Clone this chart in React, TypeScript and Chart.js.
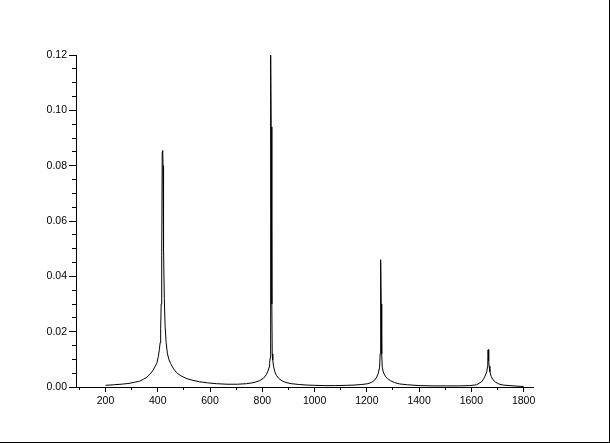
import React, { useEffect, useRef } from "react";
import { Chart, registerables } from "chart.js";

Chart.register(...registerables);

// Frequency (x) and amplitude (y)
const freqs = [
  200, 230, 260, 290, 310, 330, 345, 359, 370, 380, 390, 397, 402, 406, 409, 411, 413,
  414, 416, 417, 419, 420, 422, 425, 428, 432, 437, 443, 449, 460, 472, 486,
  500, 515, 535, 560, 590, 625, 665, 705, 740, 768, 790, 805, 815, 822, 826, 828, 830,
  831, 833, 834, 836, 837, 838, 840, 843, 848, 854, 863, 876, 891, 911, 941, 971, 1001,
  1041, 1081, 1121, 1151, 1181, 1204, 1219, 1230, 1238, 1244, 1249, 1251, 1252, 1253,
  1254, 1255, 1257, 1259, 1262, 1266, 1272, 1280, 1292, 1306, 1326, 1356, 1404, 1454,
  1504, 1554, 1594, 1620, 1638, 1645, 1652, 1659, 1662, 1663, 1664, 1666, 1667, 1668,
  1671, 1676, 1683, 1692, 1705, 1722, 1748, 1775, 1800,
];
const amps = [
  0.0006, 0.0008, 0.001, 0.0013, 0.0017, 0.0021, 0.0028, 0.0036, 0.0046, 0.0058, 0.0074,
  0.0088, 0.011, 0.0135, 0.016, 0.021, 0.03,
  0.047, 0.0475, 0.085, 0.0855, 0.08, 0.05, 0.032, 0.022, 0.016, 0.012, 0.0098, 0.0085,
  0.0066, 0.0052, 0.0042,
  0.0035, 0.0029, 0.0024, 0.0019, 0.0015, 0.0012, 0.001, 0.001, 0.0012, 0.0016, 0.0023,
  0.0032, 0.0044, 0.0058, 0.0072, 0.0085, 0.0105,
  0.063, 0.12, 0.094, 0.094, 0.03, 0.012, 0.0098, 0.0075, 0.0055, 0.0042, 0.0031, 0.0022,
  0.0016, 0.0012, 0.0009, 0.0007, 0.0006,
  0.0005, 0.0005, 0.0006, 0.0007, 0.0009, 0.0012, 0.0017, 0.0025, 0.0036, 0.005, 0.0072,
  0.012, 0.03, 0.046,
  0.046, 0.03, 0.012, 0.0072, 0.0058, 0.0047, 0.0037, 0.003, 0.0022, 0.0016, 0.0011,
  0.0008, 0.0005, 0.0004,
  0.0004, 0.0004, 0.0005, 0.0008, 0.0018, 0.0026, 0.0038, 0.0055, 0.0075, 0.0095, 0.0134,
  0.0136, 0.0095, 0.0075,
  0.0055, 0.0038, 0.0026, 0.0018, 0.0011, 0.0007, 0.0005, 0.0003, 0.0002,
];

const xMajorTicks = [200, 400, 600, 800, 1000, 1200, 1400, 1600, 1800];
const xMinorTicks = [100, 300, 500, 700, 900, 1100, 1300, 1500, 1700];
const yMajorTicks = [0, 0.02, 0.04, 0.06, 0.08, 0.1, 0.12];
const yMinorTicks = [
  0.005, 0.01, 0.015, 0.025, 0.03, 0.035, 0.045, 0.05, 0.055, 0.065, 0.07, 0.075, 0.085,
  0.09, 0.095, 0.105, 0.11, 0.115,
];

const minorTicksPlugin = {
  id: "minorTicks",
  afterDraw(chart: any) {
    const ctx = chart.ctx;
    const xs = chart.scales.x;
    const ys = chart.scales.y;
    ctx.save();
    ctx.strokeStyle = "#000";
    ctx.lineWidth = 1;
    ctx.beginPath();
    for (const v of xMinorTicks) {
      if (v < xs.min || v > xs.max) continue;
      const p = Math.round(xs.getPixelForValue(v) - 0.5) + 0.5;
      ctx.moveTo(p, ys.bottom);
      ctx.lineTo(p, ys.bottom + 3);
    }
    for (const v of yMinorTicks) {
      const p = Math.round(ys.getPixelForValue(v) - 0.5) + 0.5;
      ctx.moveTo(xs.left - 4, p);
      ctx.lineTo(xs.left, p);
    }
    ctx.stroke();
    ctx.restore();
  },
};

export default function App() {
  const ref = useRef<HTMLCanvasElement>(null);
  useEffect(() => {
    if (!ref.current) return;
    const font = { family: "'Liberation Sans', Arial, sans-serif", size: 10.5 };
    const chart = new Chart(ref.current, {
      type: "line",
      data: {
        datasets: [
          {
            data: freqs.map((f, i) => ({ x: f, y: amps[i] })),
            borderColor: "#000",
            borderWidth: 1,
            pointRadius: 0,
            tension: 0,
            fill: false,
          },
        ],
      },
      options: {
        animation: false,
        responsive: false,
        events: [],
        layout: { padding: { top: 55, right: 76, left: 0, bottom: 0 } },
        plugins: { legend: { display: false }, tooltip: { enabled: false } },
        scales: {
          x: {
            type: "linear",
            min: 87,
            max: 1836,
            afterFit: (s: any) => {
              s.height = 55;
            },
            afterBuildTicks: (s: any) => {
              s.ticks = xMajorTicks.map((v) => ({ value: v }));
            },
            ticks: {
              color: "#000",
              font,
              padding: 3,
              maxRotation: 0,
              autoSkip: false,
              callback: (v: any) => String(v),
            },
            grid: {
              drawOnChartArea: false,
              drawTicks: true,
              tickLength: 5,
              color: "#000",
              tickColor: "#000",
            },
            border: { display: true, color: "#000", width: 1 },
          },
          y: {
            type: "linear",
            min: 0,
            max: 0.12,
            afterFit: (s: any) => {
              s.width = 76;
            },
            afterBuildTicks: (s: any) => {
              s.ticks = yMajorTicks.map((v) => ({ value: v }));
            },
            ticks: {
              color: "#000",
              font,
              padding: 2,
              autoSkip: false,
              callback: (v: any) => Number(v).toFixed(2),
            },
            grid: {
              drawOnChartArea: false,
              drawTicks: true,
              tickLength: 7,
              color: "#000",
              tickColor: "#000",
            },
            border: { display: true, color: "#000", width: 1 },
          },
        },
      },
      plugins: [minorTicksPlugin],
    });
    return () => chart.destroy();
  }, []);
  return (
    <div
      style={{
        position: "absolute",
        left: 0,
        top: 0,
        width: 609,
        height: 442,
        borderRight: "1px solid #000",
        borderBottom: "1px solid #000",
        background: "#fff",
      }}
    >
      <canvas ref={ref} width={609} height={442} style={{ display: "block" }} />
    </div>
  );
}
